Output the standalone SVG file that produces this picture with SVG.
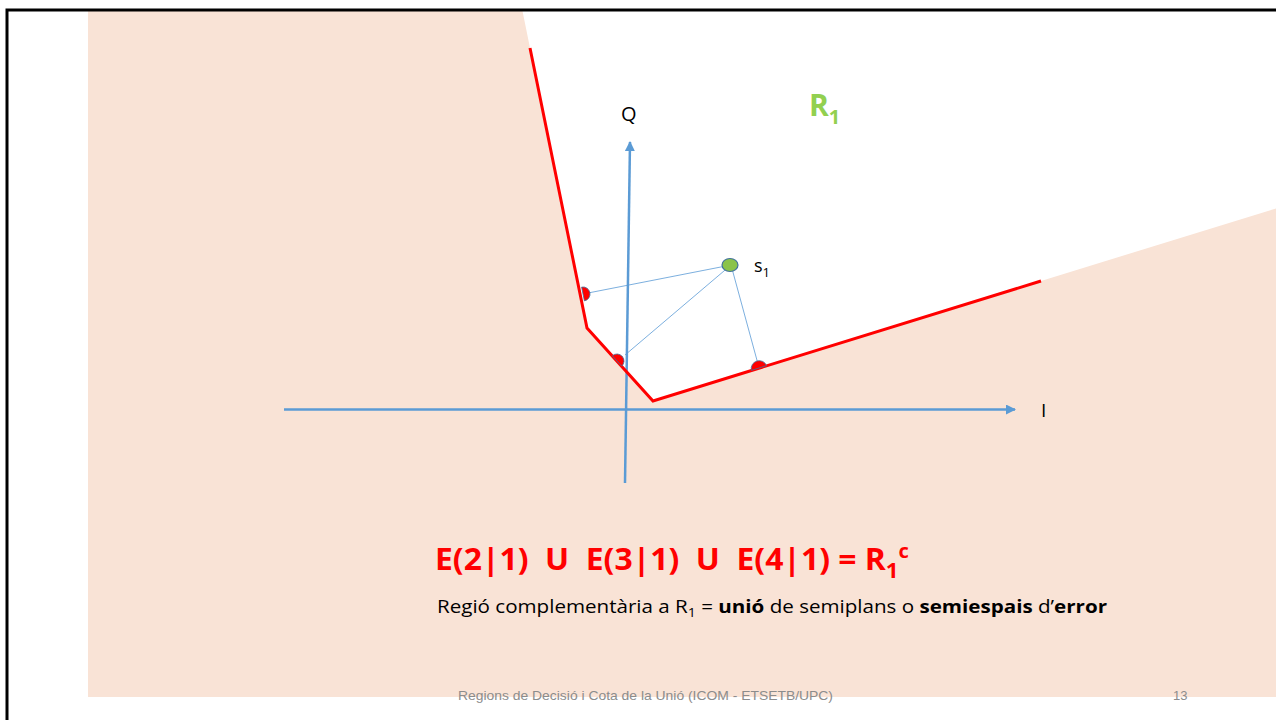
<svg xmlns="http://www.w3.org/2000/svg" width="1276" height="720" viewBox="0 0 1276 720">
<style>
.lbl{font-family:"Open Sans","Liberation Sans",sans-serif;fill:#000}
.axis{stroke:#5B9BD5;stroke-width:2.5;fill:none}
.thin{stroke:#5B9BD5;stroke-width:0.8;fill:none}
.dot{fill:#FF0000;stroke:#41719C;stroke-width:0.8}
</style>
<defs>
<marker id="arr" viewBox="0 0 10 10" refX="9" refY="5" markerWidth="4" markerHeight="4" orient="auto" markerUnits="strokeWidth">
<path d="M0,0 L10,5 L0,10 z" fill="#5B9BD5"/>
</marker>
</defs>
<rect x="0" y="0" width="1276" height="720" fill="#fff"/>
<g id="background">
<rect x="88" y="10" width="1188" height="687" fill="#F9E3D6"/>
<polygon points="522.3,10 530,48 587,328 653,401 1041,281 1276,208.4 1276,10" fill="#fff"/>
</g>
<g id="frame">
<path d="M7,720 L7,10 L1276,10" fill="none" stroke="#000" stroke-width="3"/>
</g>
<g id="connectors">
<line class="axis" x1="284" y1="409.5" x2="1015" y2="409.5" marker-end="url(#arr)"/>
<line class="axis" x1="625" y1="483" x2="630" y2="142" marker-end="url(#arr)"/>
<line class="thin" x1="731" y1="265" x2="588" y2="293"/>
<line class="thin" x1="731" y1="265" x2="625" y2="355"/>
<line class="thin" x1="731" y1="265" x2="758" y2="364"/>
</g>
<g id="boundary">
<polyline points="530,48 587,328 653,401 1041,281" fill="none" stroke="#FF0000" stroke-width="3"/>
</g>
<g id="points">
<path class="dot" d="M581.6,287.1 A7,7 0 0,1 584.4,300.9 z"/>
<path class="dot" d="M612.3,355.8 A7,7 0 0,1 621.7,366.2 z"/>
<path class="dot" d="M751.4,370.4 A8,8 0 0,1 766.6,365.6 z"/>
<ellipse id="s1pt" cx="730" cy="265" rx="8" ry="6.5" fill="#8BC34A" stroke="#41719C" stroke-width="1.2"/>
</g>
<g id="labels">
<text class="lbl" x="621" y="121" font-size="20">Q</text>
<text class="lbl" x="1041" y="417" font-size="19">I</text>
<text class="lbl" x="754" y="272" font-size="18">s<tspan font-size="13" dy="5">1</tspan></text>
<text x="809" y="116" font-family="Open Sans,Liberation Sans,sans-serif" font-weight="bold" font-size="30" fill="#92D050">R<tspan font-size="20" dy="8">1</tspan></text>
</g>
<g id="equation">
<text x="435" y="570" xml:space="preserve" font-family="Open Sans,Liberation Sans,sans-serif" font-weight="bold" font-size="30" fill="#FF0000" textLength="474" lengthAdjust="spacingAndGlyphs">E(2|1)  U  E(3|1)  U  E(4|1) = R<tspan font-size="21" dy="8">1</tspan><tspan font-size="19" dy="-20">c</tspan></text>
<text x="437" y="613" xml:space="preserve" font-family="Open Sans,Liberation Sans,sans-serif" font-size="17.5" fill="#000" textLength="670" lengthAdjust="spacingAndGlyphs">Regió complementària a R<tspan font-size="12" dy="4">1</tspan><tspan dy="-4"> = </tspan><tspan font-weight="bold">unió</tspan> de semiplans o <tspan font-weight="bold">semiespais</tspan> d’<tspan font-weight="bold">error</tspan></text>
</g>
<g id="footer">
<text x="458" y="700" font-family="Liberation Sans Narrow,Liberation Sans,sans-serif" font-size="13" fill="#8C8C8C" textLength="375" lengthAdjust="spacingAndGlyphs">Regions de Decisió i Cota de la Unió (ICOM - ETSETB/UPC)</text>
<text x="1173" y="700" font-family="Liberation Sans,sans-serif" font-size="13" fill="#8C8C8C">13</text>
</g>
</svg>
